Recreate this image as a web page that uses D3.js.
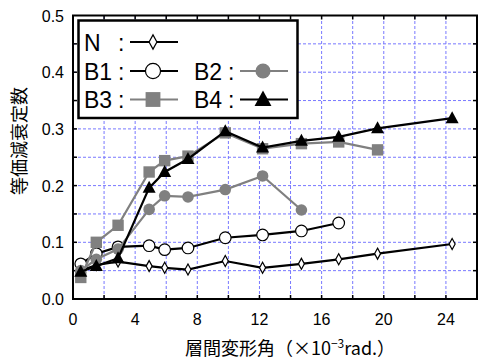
<!DOCTYPE html>
<html>
<head>
<meta charset="utf-8">
<script src="https://cdn.jsdelivr.net/npm/d3@7"></script>
<style>
  body { margin: 0; background: #fff; }
  svg { display: block; }
</style>
</head>
<body>
<div id="chart"></div>
<script>
// storey drift angle (x10^-3 rad.)
const drift = [0.5, 1.5, 2.9, 4.9, 5.9, 7.4, 9.8, 12.2, 14.7, 17.1, 19.6, 24.4];
// equivalent damping factor per specimen
const valN  = [0.050, 0.060, 0.066, 0.058, 0.055, 0.052, 0.067, 0.055, 0.062, 0.070, 0.080, 0.097];
const valB1 = [0.062, 0.080, 0.092, 0.094, 0.087, 0.090, 0.108, 0.113, 0.120, 0.134];
const valB2 = [0.050, 0.070, 0.088, 0.158, 0.182, 0.180, 0.193, 0.217, 0.157];
const valB3 = [0.038, 0.100, 0.130, 0.224, 0.244, 0.252, 0.293, 0.265, 0.274, 0.277, 0.263];
const valB4 = [0.048, 0.058, 0.072, 0.196, 0.224, 0.247, 0.296, 0.267, 0.279, 0.286, 0.301, 0.319];
const xTicks = [0, 4, 8, 12, 16, 20, 24];
const yTicks = [0.0, 0.1, 0.2, 0.3, 0.4, 0.5];

const w = 478, h = 361;
const m = { left: 73, right: 1, top: 15.5, bottom: 62 };

const svg = d3.select("#chart").append("svg")
  .attr("width", w)
  .attr("height", h);

const x = d3.scaleLinear().domain([0, 26]).range([m.left, w - m.right]);
const y = d3.scaleLinear().domain([0, 0.5]).range([h - m.bottom, m.top]);

const gray = "#808080";
const series = [
  { name: "N",  vals: valN,  color: "#000", marker: "diamond" },
  { name: "B1", vals: valB1, color: "#000", marker: "open" },
  { name: "B2", vals: valB2, color: gray,   marker: "dot" },
  { name: "B3", vals: valB3, color: gray,   marker: "square" },
  { name: "B4", vals: valB4, color: "#000", marker: "triangle" }
];

// grid
const grid = svg.append("g")
  .attr("stroke", "#7878ff")
  .attr("stroke-width", 1)
  .attr("stroke-dasharray", "3,2");
grid.selectAll("line.v")
  .data(d3.range(2, 26, 2))
  .join("line")
  .attr("x1", d => x(d)).attr("x2", d => x(d))
  .attr("y1", y(0)).attr("y2", y(0.5));
grid.selectAll("line.h")
  .data(d3.range(0.05, 0.5, 0.05))
  .join("line")
  .attr("y1", d => y(d)).attr("y2", d => y(d))
  .attr("x1", x(0)).attr("x2", x(26));

// ticks pointing inward on all four sides
const ticks = svg.append("g").attr("stroke", "#000").attr("stroke-width", 1.5);
d3.range(2, 26, 2).forEach(v => {
  ticks.append("line").attr("x1", x(v)).attr("x2", x(v)).attr("y1", y(0)).attr("y2", y(0) - 4);
  ticks.append("line").attr("x1", x(v)).attr("x2", x(v)).attr("y1", y(0.5)).attr("y2", y(0.5) + 4);
});
d3.range(0.05, 0.5, 0.05).forEach(v => {
  ticks.append("line").attr("y1", y(v)).attr("y2", y(v)).attr("x1", x(0)).attr("x2", x(0) + 4);
  ticks.append("line").attr("y1", y(v)).attr("y2", y(v)).attr("x1", x(26)).attr("x2", x(26) - 4);
});

// frame
svg.append("rect")
  .attr("x", x(0)).attr("y", y(0.5))
  .attr("width", x(26) - x(0)).attr("height", y(0) - y(0.5))
  .attr("fill", "none")
  .attr("stroke", "#000")
  .attr("stroke-width", 2);

// tick labels
const tickFont = "'Liberation Sans', Arial, sans-serif";
svg.append("g").selectAll("text")
  .data(xTicks)
  .join("text")
  .attr("x", d => x(d))
  .attr("y", y(0) + 26)
  .attr("text-anchor", "middle")
  .attr("font-family", tickFont)
  .attr("font-size", 16)
  .text(d => d);
svg.append("g").selectAll("text")
  .data(yTicks)
  .join("text")
  .attr("x", x(0) - 9)
  .attr("y", d => y(d) + 6)
  .attr("text-anchor", "end")
  .attr("font-family", tickFont)
  .attr("font-size", 16)
  .text(d => d.toFixed(1));

// axis titles
const jpFont = "'Noto Sans CJK JP', sans-serif";
const xt = svg.append("text")
  .attr("x", 290)
  .attr("y", 355)
  .attr("text-anchor", "middle")
  .attr("font-family", jpFont)
  .attr("font-size", 18)
  .text("層間変形角（×10");
xt.append("tspan").attr("font-size", 12).attr("dy", -7).text("−3");
xt.append("tspan").attr("dy", 7).text("rad.）");

svg.append("text")
  .attr("transform", "translate(26,141) rotate(-90)")
  .attr("text-anchor", "middle")
  .attr("font-family", jpFont)
  .attr("font-size", 18)
  .text("等価減衰定数");

// markers (k scales the size: legend markers are drawn larger)
function drawMarker(g, type, cx, cy, color, k) {
  if (type === "diamond") {
    g.append("path")
      .attr("d", `M${cx},${cy - 5.5 * k}L${cx + 3 * k},${cy}L${cx},${cy + 5.5 * k}L${cx - 3 * k},${cy}Z`)
      .attr("fill", "#fff").attr("stroke", "#000").attr("stroke-width", 1.2);
  } else if (type === "open") {
    g.append("circle").attr("cx", cx).attr("cy", cy).attr("r", 5.8 * k)
      .attr("fill", "#fff").attr("stroke", "#000").attr("stroke-width", 1.2);
  } else if (type === "dot") {
    g.append("circle").attr("cx", cx).attr("cy", cy).attr("r", 5.8 * k)
      .attr("fill", color);
  } else if (type === "square") {
    g.append("rect").attr("x", cx - 5.7 * k).attr("y", cy - 5.7 * k)
      .attr("width", 11.4 * k).attr("height", 11.4 * k).attr("fill", color);
  } else if (type === "triangle") {
    g.append("path")
      .attr("d", `M${cx},${cy - 7 * k}L${cx + 6.5 * k},${cy + 5 * k}L${cx - 6.5 * k},${cy + 5 * k}Z`)
      .attr("fill", "#000");
  }
}

const line = d3.line().x(d => x(d[0])).y(d => y(d[1]));
series.forEach(s => {
  const pts = s.vals.map((v, i) => [drift[i], v]);
  const g = svg.append("g");
  g.append("path")
    .attr("d", line(pts))
    .attr("fill", "none")
    .attr("stroke", s.color)
    .attr("stroke-width", 2.2);
  pts.forEach(p => drawMarker(g, s.marker, x(p[0]), y(p[1]), s.color, 1));
});

// legend
const lg = svg.append("g");
lg.append("rect")
  .attr("x", 78.5).attr("y", 20.5)
  .attr("width", 219).attr("height", 97.5)
  .attr("fill", "#fff")
  .attr("stroke", "#000")
  .attr("stroke-width", 2.5);
const legendPos = [
  { x: 84, y: 42 },
  { x: 84, y: 71 },
  { x: 194, y: 71 },
  { x: 84, y: 99.5 },
  { x: 194, y: 99.5 }
];
series.forEach((s, i) => {
  const p = legendPos[i];
  lg.append("text")
    .attr("x", p.x).attr("y", p.y + 8.5)
    .attr("font-family", tickFont)
    .attr("font-size", 23)
    .text(s.name);
  lg.append("text")
    .attr("x", p.x + 34).attr("y", p.y + 8.5)
    .attr("font-family", tickFont)
    .attr("font-size", 23)
    .text(":");
  lg.append("line")
    .attr("x1", p.x + 46).attr("x2", p.x + 94)
    .attr("y1", p.y).attr("y2", p.y)
    .attr("stroke", s.color).attr("stroke-width", 2.2);
  drawMarker(lg, s.marker, p.x + 69, p.y, s.color, 1.3);
});
</script>
</body>
</html>
